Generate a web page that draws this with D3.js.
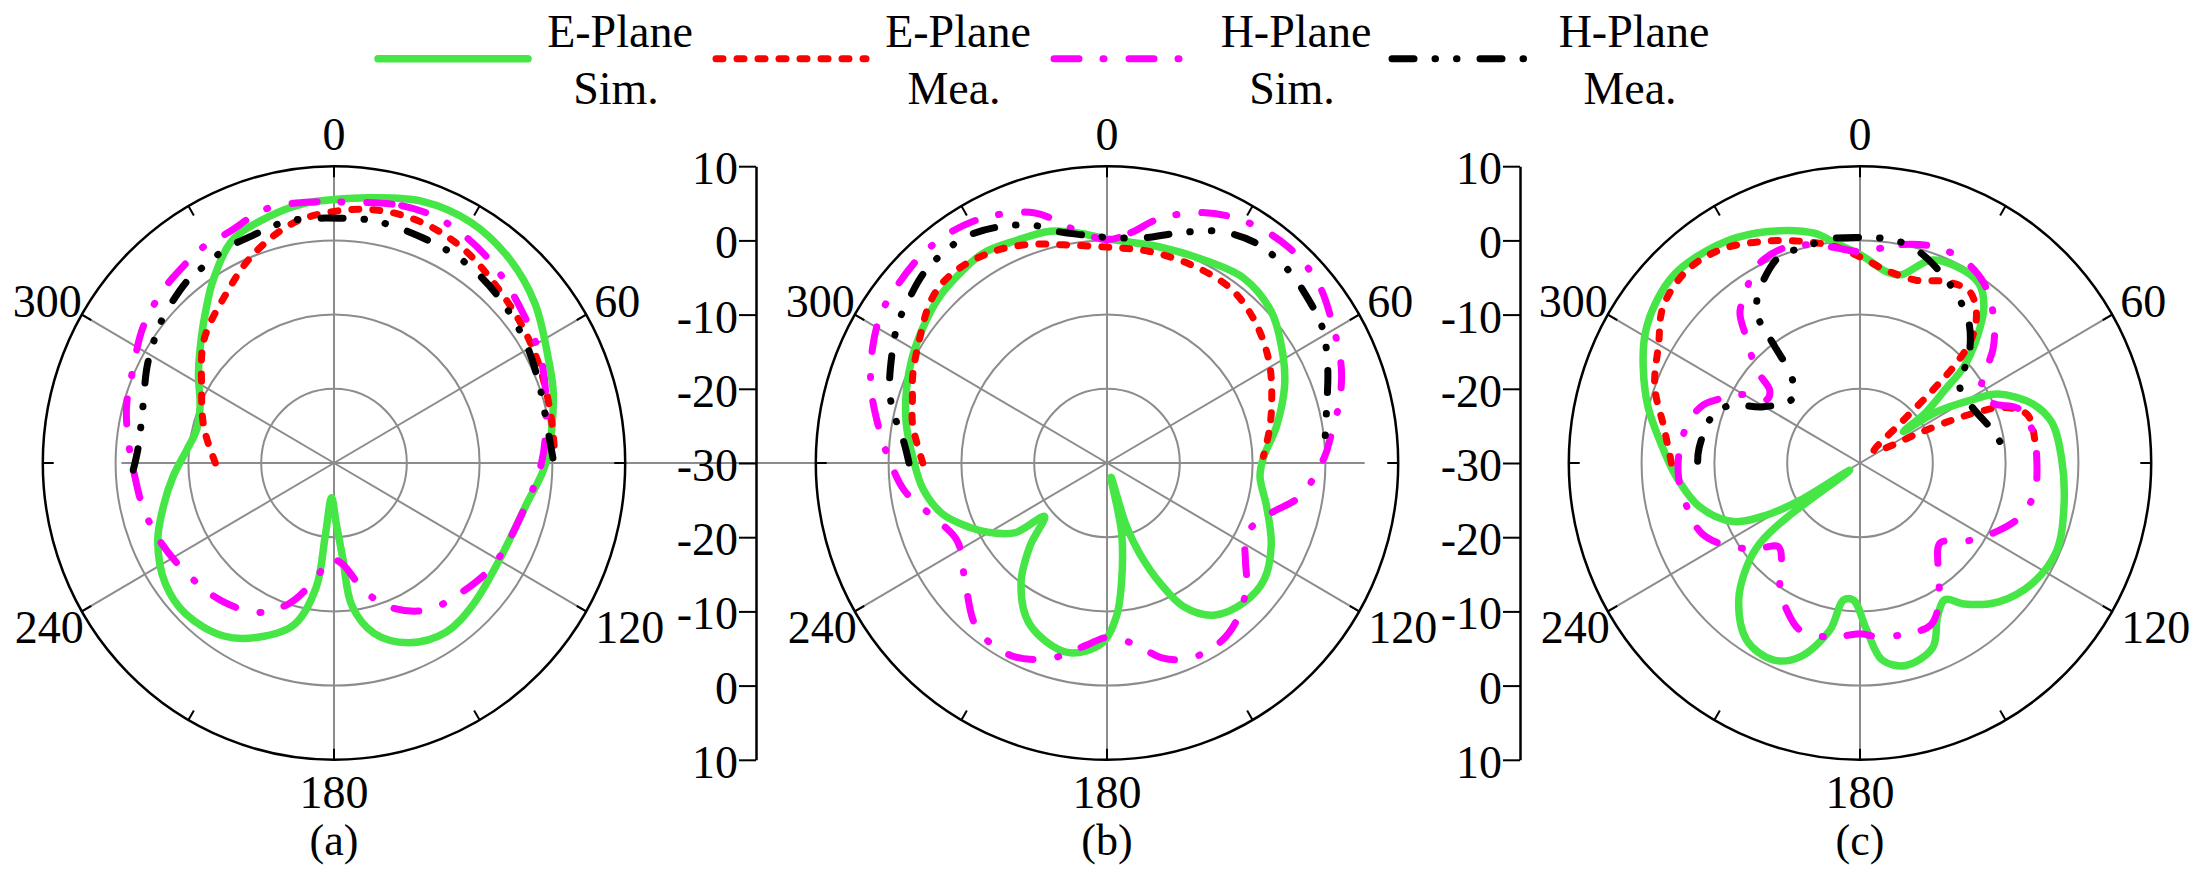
<!DOCTYPE html>
<html>
<head>
<meta charset="utf-8">
<script src="https://cdn.jsdelivr.net/npm/d3@7"></script>
<style>
  body { margin: 0; background: #fff; }
</style>
</head>
<body>
<svg id="chart" width="2211" height="884"></svg>
<script>
// angles in degrees, clockwise from top; gains in dB
var panelLabels = ["(a)", "(b)", "(c)"];
var angleTicks = [0, 60, 120, 180, 240, 300];
var gridRings = [-20, -10, 0];
var radialTicks = [10, 0, -10, -20, -30, -20, -10, 0, 10];
var seriesNames = [["E-Plane", "Sim."], ["E-Plane", "Mea."], ["H-Plane", "Sim."], ["H-Plane", "Mea."]];

// (a)
var aESim = [[0,5.5],[8,6.1],[19,7.3],[30,7.5],[41,6.6],[52,5],[64,2.7],[73,1.5],[90,-0.9],[102,-3],[120,-3.8],[135,-3],[146,-2.5],[157,-3.7],[166.5,-6.4],[172.7,-10.6],[174.6,-17],[178,-22],[184,-25.3],[187,-20],[188.3,-13.1],[194,-7.6],[204,-4.3],[213,-2.2],[225,-1.2],[235,-1.7],[246.5,-3.6],[255.8,-5.8],[265.2,-7.8],[275,-9.7],[283.3,-10.6],[292.4,-10.1],[303,-7.8],[313,-5.1],[320.3,-2.6],[326,-0.3],[335,3.1],[345,4.4],[353,5.2]];
var aEMea = [[270,-13.7],[285,-11.5],[299.5,-9.1],[313,-5.6],[327,-2.8],[338,0.1],[350,2.8],[0,3.9],[10,4.6],[20.6,4.6],[31.5,3.9],[42.5,2.7],[54,1.8],[65,1.1],[77,0.5],[89,0.4]];
var aHSim = [[2,5.2],[15,5.9],[25,5.9],[38,4.7],[52,2.9],[64.5,1.6],[77,-0.1],[90,-1.5],[105,-3.3],[121.6,-4.1],[134,-5.2],[147,-6.4],[157.7,-8.9],[166,-12.1],[175,-16.3],[180,-17],[183,-17],[189,-14.3],[198,-10.1],[207,-7.4],[219,-5.9],[232,-5],[246,-3.9],[257,-3.1],[266,-2.6],[276,-1.6],[285,-0.5],[294,0.3],[305,2],[315,3.1],[321.5,3.6],[328,4.2],[335,4.3],[345,5.5],[356,5.3]];
var aHMea = [[268,-2.4],[274,-3],[281,-3],[287,-2.6],[297,-1.2],[305,-0.1],[310,0.6],[321,1.8],[327,2],[333,2.5],[339,2.6],[349,3.2],[2,3],[10,3.1],[22,2.7],[33,2.5],[45.5,1.8],[58.6,0.9],[69.6,0.1],[79,-0.3],[89,0.1]];

// (b)
var bESim = [[0,0.2],[14,0],[27,0.5],[37,1.2],[48,0.4],[59,-1.8],[67,-3.5],[78,-6.2],[88,-8.5],[95,-8.9],[105,-7.3],[116,-4.9],[126,-3.3],[135,-3.4],[144.5,-4.8],[151.5,-8],[155.7,-12.2],[159.8,-17],[162.6,-21],[164,-28],[168,-20.3],[173,-13.7],[176.4,-9.3],[181.7,-5.7],[192,-3.9],[206,-5.8],[216,-9.9],[223.4,-14.6],[230,-18.8],[233.3,-14.3],[240,-11.3],[245.4,-9.2],[253,-6.4],[262,-4.5],[271,-3.4],[281,-1.9],[290,-0.7],[298,0.3],[306,1.2],[314,2.1],[322,2.6],[329,3],[337,2.5],[346,2.2],[353,1.2]];
var bEMea = [[270,-4.7],[281,-2.8],[288,-1.9],[294,-0.8],[303,0.7],[312,2.6],[318,3.2],[324,3.1],[329,2.7],[334,2.2],[341,1.2],[348.5,0],[0,-0.9],[11.6,-0.9],[24,-0.9],[36,-1],[46.6,-2.1],[58.6,-3.9],[70.5,-6],[79,-7.3],[87.6,-8.5]];
var bHSim = [[0,0.1],[6,1.2],[12.3,3.7],[21.2,6.2],[30.3,7.7],[40.5,8.3],[50,7.8],[59.4,6.1],[68,4.7],[75,3.1],[84,0.8],[88.4,-0.1],[99.6,-3.1],[107,-6.6],[116.3,-8.6],[124.6,-6.9],[131,-4.6],[140,-2.3],[147,-1.3],[156.6,-1.3],[163.7,-2.6],[171.6,-5.4],[180,-6.5],[186.5,-5.3],[196.6,-2.5],[207,-0.9],[218.5,-1.4],[230.3,-4.7],[243,-6.9],[253.8,-4.8],[262.5,-1.9],[270.8,-0.1],[277.3,1.4],[287.5,4],[296,5.8],[302.3,6.9],[307,7.3],[319,7.9],[330.6,7.4],[343.4,5.2],[351.5,1.9]];
var bHMea = [[270,-2.8],[276,-1.9],[283,0.1],[288,1.4],[296,2.9],[303,4.3],[308,4.9],[315.5,5.9],[323,6.2],[328,6.1],[334.5,5.2],[342.5,3.6],[347,2.1],[354,0.9],[0,0.4],[9.7,0.8],[17.5,2.5],[25.8,4.7],[34.3,6],[43.8,6],[50,5.5],[58,4.8],[64,3.6],[69,2.5],[76,1.1],[85.5,0]];

// (c)
var cESim = [[0.7,-2.1],[8.2,-4],[12.6,-4],[19.5,-1],[26,-0.4],[34,-0.8],[38.9,-2.9],[43.8,-6.9],[47.7,-10.7],[49.8,-14.7],[53,-18.7],[54.5,-22.7],[56.6,-17.7],[61.3,-12.1],[63.9,-8.9],[71.4,-5],[78.2,-3.1],[88.8,-2.3],[101.5,-1.4],[113.8,-0.5],[124.4,-1.3],[134.5,-3.3],[143,-6.2],[147.6,-8.2],[152.6,-6.8],[158.1,-3.2],[167,-2],[173.5,-3.3],[177.7,-7.5],[182.8,-11.5],[187,-11.4],[190.4,-7.1],[197.5,-2.6],[204.2,-0.9],[213.1,-1.5],[222,-5.1],[228.1,-9.1],[231.8,-12.5],[233.7,-17],[235.5,-28.3],[238.6,-20.4],[241.3,-15.4],[245.6,-10.9],[255,-7.2],[265.8,-4.7],[276.4,-2.3],[284.6,0.1],[293.6,2.5],[300.7,4.3],[308.3,5.5],[315,6],[321.4,5.7],[330.8,4.8],[340.6,3.2],[348.5,1.6],[354.2,-0.4]];
var cEMea = [[270,-4.1],[280.3,-2.6],[290,0],[300.2,2],[308,4.3],[317.7,5.2],[326.6,4.5],[336.5,2.6],[346.8,0.6],[354.1,-0.8],[0.7,-2.4],[8.1,-3.8],[17.3,-4.2],[25.5,-2.9],[32.9,-2.4],[38.1,-4.1],[42.5,-7.3],[44.5,-11],[45.5,-16],[46,-22],[50,-27.5],[60,-26],[63.5,-21],[65.5,-16],[67,-12.5],[69.2,-8.9],[74.2,-6.1],[83,-5.8]];
var cHSim = [[0,-1.5],[11,0],[19.5,0.9],[27.6,0.8],[35.1,-0.4],[42.8,-3],[49.7,-6],[55.5,-9.4],[59.3,-10.6],[66.4,-10],[71.2,-7.1],[79.7,-5.9],[90,-5.7],[99,-5.7],[107.2,-6.6],[115.6,-8.9],[126.5,-12.2],[134.3,-14.6],[143.2,-12.1],[149.8,-8.4],[156,-6.1],[164.7,-6.1],[174.4,-6.5],[180,-7],[189.4,-6.2],[200,-6],[207,-7.8],[213.8,-10.2],[217.6,-12.3],[224.7,-14.1],[230.6,-11.9],[237.7,-8.9],[246.3,-6.3],[256.1,-5.5],[265.9,-5],[275.1,-5.2],[283.9,-5.9],[290,-7.1],[293.3,-8.5],[299.9,-11.5],[303.6,-14.6],[308.3,-14.2],[311.4,-11.1],[317.4,-6.9],[320.8,-3.9],[325.6,-2.2],[331.5,0],[339.1,0.8],[345.3,0.4],[352.8,-0.7]];
var cHMea = [[270.6,-7.7],[275.2,-7.8],[286.9,-8.7],[293.5,-10.5],[299.7,-14.7],[313.2,-17.3],[321,-15.1],[323.3,-10.4],[324.6,-5.8],[328.2,-3.4],[338.5,0],[345.9,0],[350.6,0.5],[0,0.4],[8.8,0.4],[14.9,-0.2],[24,-2.2],[31.9,-4.1],[38.4,-5.9],[45.4,-8.9],[53.3,-12.9],[63.3,-12.9],[76.8,-11.2],[82,-10.5]];

var panelSeries = [[aESim, aEMea, aHSim, aHMea], [bESim, bEMea, bHSim, bHMea], [cESim, cEMea, cHSim, cHMea]];

// styles / layout
var seriesStyle = [
	{ color: "#45E645", dash: null, width: 7.5, closed: true },
	{ color: "#FF0000", dash: "7 14", width: 7, closed: false },
	{ color: "#FF00FF", dash: "25 24 1 25", width: 7, closed: true },
	{ color: "#000000", dash: "22 21 0.5 21 0.5 23", width: 7, closed: false }
];
var cy = 463;
var centers = [334, 1107, 1860];
var axisX = [null, 756, 1520];
var fs = 46;
var grey = "#8c8c8c";
var serif = "'Liberation Serif', 'Times New Roman', 'DejaVu Serif', serif";

var rX = d3.scaleLinear().domain([-30, 10]).range([0, 291.2]);
var rY = d3.scaleLinear().domain([-30, 10]).range([0, 296.8]);

function rad(a) { return a * Math.PI / 180; }
function pt(cx, a, v) {
	return [cx + rX(v) * Math.sin(rad(a)), cy - rY(v) * Math.cos(rad(a))];
}
function label(sel, x, y, anchor, size, txt) {
	return sel.append("text").attr("x", x).attr("y", y)
		.attr("text-anchor", anchor)
		.style("font-family", serif).style("font-size", size + "px")
		.attr("fill", "#000").text(txt);
}

var svg = d3.select("#chart");
svg.append("rect").attr("width", 2211).attr("height", 884).attr("fill", "#fff");

// horizontal line shared by (a) and (b)
svg.append("line")
	.attr("x1", pt(centers[0], 270, -0.8)[0]).attr("x2", pt(centers[1], 90, 5.4)[0])
	.attr("y1", cy).attr("y2", cy)
	.attr("stroke", grey).attr("stroke-width", 2);

centers.forEach(function(cx, i) {
	var g = svg.append("g");

	// grey rings
	g.selectAll(".ring").data(gridRings).enter().append("ellipse")
		.attr("cx", cx).attr("cy", cy)
		.attr("rx", function(d) { return rX(d); })
		.attr("ry", function(d) { return rY(d); })
		.attr("fill", "none").attr("stroke", grey).attr("stroke-width", 2);

	// spokes
	g.selectAll(".spoke").data(angleTicks).enter().append("line")
		.attr("x1", cx).attr("y1", cy)
		.attr("x2", function(d) { return pt(cx, d, 10)[0]; })
		.attr("y2", function(d) { return pt(cx, d, 10)[1]; })
		.attr("stroke", grey).attr("stroke-width", 2);

	// outer circle
	g.append("ellipse").attr("cx", cx).attr("cy", cy)
		.attr("rx", rX(10)).attr("ry", rY(10))
		.attr("fill", "none").attr("stroke", "#000").attr("stroke-width", 2.5);

	// ticks every 30 degrees
	g.selectAll(".tick30").data(d3.range(0, 360, 30)).enter().append("line")
		.attr("x1", function(d) { return pt(cx, d, 10)[0]; })
		.attr("y1", function(d) { return pt(cx, d, 10)[1]; })
		.attr("x2", function(d) { return pt(cx, d, 8.5)[0]; })
		.attr("y2", function(d) { return pt(cx, d, 8.5)[1]; })
		.attr("stroke", "#000").attr("stroke-width", 2);

	// angle labels
	angleTicks.forEach(function(a) {
		var p = pt(cx, a, 10), x = p[0], y = p[1], anchor = "middle";
		if (a === 0) { y = y - 16; }
		else if (a === 180) { y = y + 48; }
		else if (a === 60) { x += 8; y += 2; anchor = "start"; }
		else if (a === 120) { x += 9; y += 32; anchor = "start"; }
		else if (a === 240) { x += 2; y += 32; anchor = "end"; }
		else if (a === 300) { y += 2; anchor = "end"; }
		label(g, x, y, anchor, fs, a);
	});

	// radial axis
	if (axisX[i] !== null) {
		var s = d3.scaleLinear().domain([40, -40]).range([cy - rY(10), cy + rY(10)]);
		var ax = g.append("g").attr("transform", "translate(" + axisX[i] + ",0)");
		ax.call(d3.axisLeft(s).tickValues(d3.range(35, -40, -10)).tickSize(8).tickSizeOuter(0).tickFormat(""));
		ax.call(d3.axisLeft(s).tickValues(d3.range(40, -41, -10)).tickSize(17).tickSizeOuter(0).tickPadding(1)
			.tickFormat(function(t) { return radialTicks[(40 - t) / 10]; }));
		ax.attr("font-family", null);
		ax.selectAll("path.domain").attr("stroke", "#000").attr("stroke-width", 2.5);
		ax.selectAll(".tick line").attr("stroke", "#000").attr("stroke-width", 2);
		ax.selectAll(".tick text").attr("dy", "0.38em").attr("fill", "#000")
			.style("font-family", serif).style("font-size", fs + "px");
	}

	// curves
	panelSeries[i].forEach(function(data, k) {
		var st = seriesStyle[k];
		var line = d3.line()
			.x(function(d) { return pt(cx, d[0], d[1])[0]; })
			.y(function(d) { return pt(cx, d[0], d[1])[1]; })
			.curve(st.closed ? d3.curveCatmullRomClosed.alpha(0.5) : d3.curveCatmullRom.alpha(0.5));
		g.append("path").attr("d", line(data))
			.attr("fill", "none").attr("stroke", st.color)
			.attr("stroke-width", st.width)
			.attr("stroke-linecap", "round").attr("stroke-linejoin", "round")
			.attr("stroke-dasharray", st.dash);
	});

	// panel label
	label(g, cx, 855, "middle", 44, panelLabels[i]);
});

// legend
var legend = svg.append("g");
seriesNames.forEach(function(n, k) {
	var st = seriesStyle[k];
	var x0 = 378 + k * 338;
	legend.append("line").attr("x1", x0).attr("x2", x0 + 150)
		.attr("y1", 58.7).attr("y2", 58.7)
		.attr("stroke", st.color).attr("stroke-width", st.width)
		.attr("stroke-linecap", "round").attr("stroke-dasharray", st.dash);
	label(legend, x0 + 242, 46.7, "middle", fs, n[0]);
	label(legend, x0 + 238, 104, "middle", fs, n[1]);
});
</script>
</body>
</html>
